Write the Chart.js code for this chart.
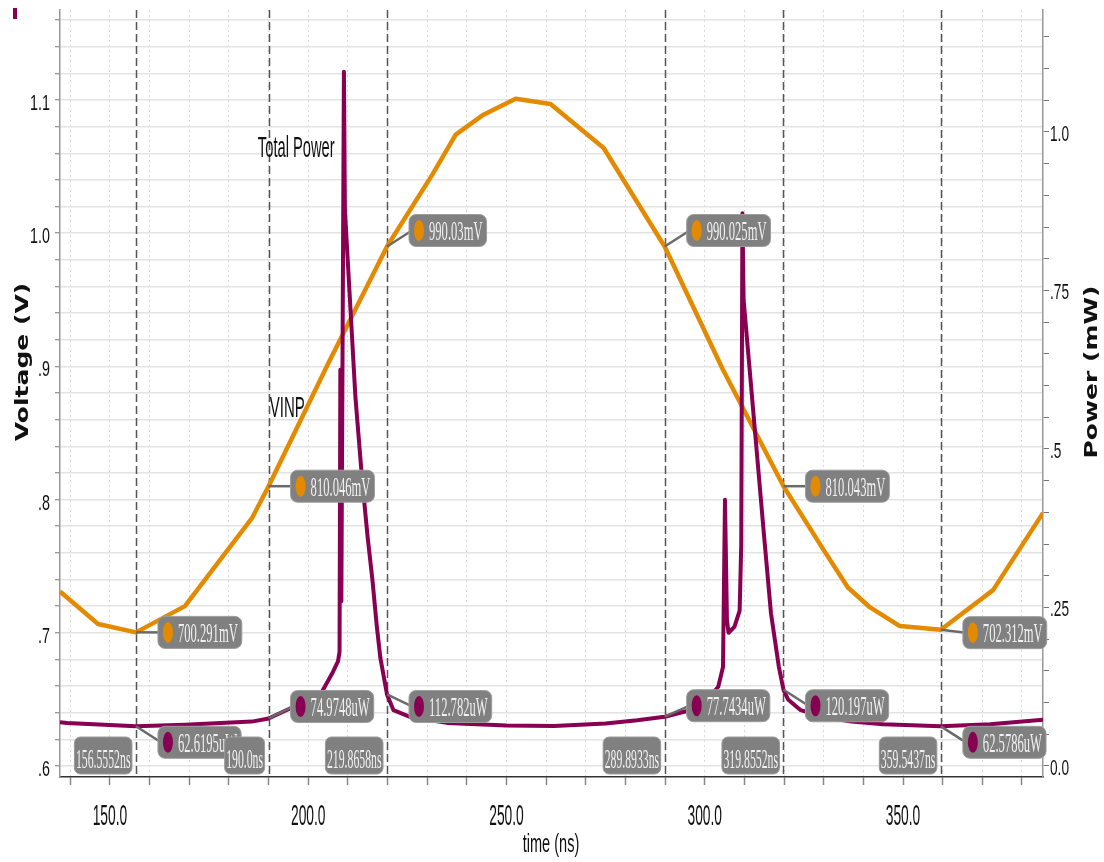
<!DOCTYPE html>
<html>
<head>
<meta charset="utf-8">
<script src="https://cdn.jsdelivr.net/npm/chart.js@4.4.0/dist/chart.umd.min.js"></script>
<style>
  html, body { margin: 0; padding: 0; background: #fff; }
  #wrap { width: 1104px; height: 862px; position: relative; }
</style>
</head>
<body>
<div id="wrap"><canvas id="chart"></canvas></div>
<script>
// VINP (V) against time (ns)
const vinpTime = [137.4, 147.0, 156.56, 168.9, 185.8, 190.0, 205.0, 219.87, 231.3, 237.2, 244.2, 252.3, 261.1, 274.5,
    289.89, 304.5, 319.86, 329.8, 336.1, 341.7, 349.2, 359.54, 372.7, 384.0, 385.3];
const vinpVolt = [0.731, 0.7066, 0.7003, 0.720, 0.786, 0.810, 0.902, 0.990, 1.044, 1.074, 1.089, 1.101, 1.097, 1.064,
    0.990, 0.898, 0.810, 0.763, 0.734, 0.719, 0.705, 0.7023, 0.732, 0.784, 0.79];

// Total Power (mW) against time (ns)
const powerTime = [137.4, 139.2, 156.56, 168.9, 185.8, 190.0, 196.2, 203.0, 206.2, 207.5, 207.9, 208.1, 208.35, 209.0,
    209.25, 211.9, 213.6, 215.0, 216.2, 217.3, 218.2, 219.87, 221.5, 225.8, 235, 250, 262, 275, 283, 289.89, 296.3, 302.1,
    303.4, 304.6, 305.1, 305.6, 306.0, 307.5, 308.8, 309.2, 309.5, 309.8, 314.9, 316.7, 318.7, 319.86, 321.0, 324.2, 330,
    337, 345, 359.54, 372, 385.3];
const powerMw = [0.069, 0.068, 0.0626, 0.065, 0.070, 0.075, 0.093, 0.112, 0.148, 0.165, 0.18, 0.625, 0.26, 1.095,
    0.877, 0.582, 0.451, 0.36, 0.293, 0.22, 0.17, 0.1128, 0.088, 0.077, 0.068, 0.064, 0.063, 0.067, 0.072, 0.0777, 0.088,
    0.115, 0.125, 0.156, 0.42, 0.23, 0.21, 0.22, 0.245, 0.35, 0.872, 0.735, 0.367, 0.241, 0.156, 0.12, 0.105, 0.088, 0.077,
    0.07, 0.066, 0.0626, 0.066, 0.073];

// cursors
const cursorTime = [156.5552, 190.0, 219.8658, 289.8933, 319.8552, 359.5437];
const cursorTimeText = ['156.5552ns', '190.0ns', '219.8658ns', '289.8933ns', '319.8552ns', '359.5437ns'];
const cursorVinp = [700.291, 810.046, 990.03, 990.025, 810.043, 702.312];   // mV
const cursorPower = [62.6195, 74.9748, 112.782, 77.7434, 120.197, 62.5786]; // uW

// tick labels
const timeTicks = [150, 200, 250, 300, 350];
const timeTickText = ['150.0', '200.0', '250.0', '300.0', '350.0'];
const voltTicks = [0.6, 0.7, 0.8, 0.9, 1.0, 1.1];
const voltTickText = ['.6', '.7', '.8', '.9', '1.0', '1.1'];
const powerTicks = [0, 0.25, 0.5, 0.75, 1.0];
const powerTickText = ['0.0', '.25', '.5', '.75', '1.0'];

const ORANGE = '#E38A00';
const PURPLE = '#870052';

// tag placement (px shift of the box from its point)
const vinpTagShift = [0, 0, -16, -16, 0, 3];
const powerTagShift = [16, -12, 12, -11, 16, 16];

function stepTicks(from, to, step) {
    const out = [];
    for (let i = 0; from + i * step <= to + 1e-9; i++) out.push({ value: +(from + i * step).toFixed(4) });
    return out;
}

function putText(ctx, str, x, y, font, sx, align, color) {
    ctx.save();
    ctx.font = font;
    ctx.fillStyle = color;
    ctx.textBaseline = 'alphabetic';
    ctx.textAlign = 'left';
    const w = ctx.measureText(str).width * sx;
    let left = x;
    if (align === 'center') left = x - w / 2;
    else if (align === 'right') left = x - w;
    ctx.translate(left, y);
    ctx.scale(sx, 1);
    ctx.fillText(str, 0, 0);
    ctx.restore();
    return w;
}

function putVertical(ctx, str, cx, cy, font, sy, color) {
    ctx.save();
    ctx.font = font;
    ctx.fillStyle = color;
    ctx.translate(cx, cy);
    ctx.rotate(-Math.PI / 2);
    ctx.scale(1, sy);
    ctx.textAlign = 'center';
    ctx.textBaseline = 'middle';
    ctx.fillText(str, 0, 0);
    ctx.restore();
}

function textWidth(ctx, str, font, sx) {
    ctx.save();
    ctx.font = font;
    const w = ctx.measureText(str).width * sx;
    ctx.restore();
    return w;
}

const TAG_FONT = '28px "Liberation Serif", serif';

function valueTag(ctx, px, py, by, color, str) {
    const bx = px + 22;
    const tw = textWidth(ctx, str, TAG_FONT, 0.45);
    const bw = 20 + tw + 4;
    ctx.save();
    ctx.strokeStyle = '#6a6a6a';
    ctx.lineWidth = 2.5;
    ctx.beginPath();
    ctx.moveTo(px, py);
    ctx.lineTo(bx + 3, by);
    ctx.stroke();
    ctx.fillStyle = '#808080';
    ctx.strokeStyle = '#9c9c9c';
    ctx.lineWidth = 1;
    ctx.beginPath();
    ctx.roundRect(bx, by - 16, bw, 32, 7);
    ctx.fill();
    ctx.stroke();
    ctx.fillStyle = color;
    ctx.beginPath();
    ctx.ellipse(bx + 10, by, 5, 10.5, 0, 0, Math.PI * 2);
    ctx.fill();
    ctx.restore();
    putText(ctx, str, bx + 20, by + 9.5, TAG_FONT, 0.45, 'left', '#f0f0f0');
}

function timeTag(ctx, px, str) {
    const tw = textWidth(ctx, str, TAG_FONT, 0.42);
    const bw = tw + 3;
    const right = px - 4;
    ctx.save();
    ctx.fillStyle = '#808080';
    ctx.strokeStyle = '#9c9c9c';
    ctx.lineWidth = 1;
    ctx.beginPath();
    ctx.roundRect(right - bw, 737, bw, 37, 6);
    ctx.fill();
    ctx.stroke();
    ctx.restore();
    putText(ctx, str, right - bw / 2, 768, TAG_FONT, 0.42, 'center', '#f0f0f0');
}

const overlay = {
    id: 'overlay',
    beforeDatasetsDraw(chart) {
        const { ctx, chartArea, scales: { x } } = chart;
        ctx.save();
        ctx.strokeStyle = '#555';
        ctx.lineWidth = 1.5;
        ctx.setLineDash([8, 4]);
        cursorTime.forEach(t => {
            const px = Math.round(x.getPixelForValue(t)) + 0.5;
            ctx.beginPath();
            ctx.moveTo(px, chartArea.top);
            ctx.lineTo(px, chartArea.bottom);
            ctx.stroke();
        });
        ctx.restore();
    },
    afterDatasetsDraw(chart) {
        const { ctx, scales: { x, y, y2 } } = chart;
        cursorTime.forEach((t, i) => {
            const px = x.getPixelForValue(t);
            const pyV = y.getPixelForValue(cursorVinp[i] / 1000);
            valueTag(ctx, px, pyV, pyV + vinpTagShift[i], ORANGE, cursorVinp[i] + 'mV');
            const pyP = y2.getPixelForValue(cursorPower[i] / 1000);
            valueTag(ctx, px, pyP, pyP + powerTagShift[i], PURPLE, cursorPower[i] + 'uW');
        });
        cursorTime.forEach((t, i) => timeTag(ctx, x.getPixelForValue(t), cursorTimeText[i]));

        // trace names
        putText(ctx, 'Total Power', x.getPixelForValue(187.3), y.getPixelForValue(1.057), '30px "Liberation Sans", Arial', 0.49, 'left', '#111');
        putText(ctx, 'VINP', x.getPixelForValue(190.3), y.getPixelForValue(0.862), '30px "Liberation Sans", Arial', 0.5, 'left', '#111');
    },
    afterDraw(chart) {
        const { ctx, scales: { x, y, y2 } } = chart;
        const tickFont = '22px "Liberation Sans", Arial';
        voltTicks.forEach((v, i) => putText(ctx, voltTickText[i], 50, y.getPixelForValue(v) + 10, tickFont, 0.65, 'right', '#111'));
        powerTicks.forEach((v, i) => putText(ctx, powerTickText[i], 1050, y2.getPixelForValue(v) + 9, tickFont, 0.62, 'left', '#111'));
        timeTicks.forEach((v, i) => putText(ctx, timeTickText[i], x.getPixelForValue(v), 825, '30px "Liberation Sans", Arial', 0.46, 'center', '#111'));
        putText(ctx, 'time (ns)', 551, 852, '26px "Liberation Sans", Arial', 0.56, 'center', '#111');
        putVertical(ctx, 'Voltage (V)', 23, 362, 'bold 25px "DejaVu Sans", Verdana', 0.72, '#111');
        putVertical(ctx, 'Power (mW)', 1092, 372, 'bold 25px "DejaVu Sans", Verdana', 0.72, '#111');
        ctx.save();
        ctx.fillStyle = PURPLE;
        ctx.fillRect(13, 8, 4, 11);
        ctx.restore();
    }
};

const ctx = document.getElementById('chart').getContext('2d');

const chart = new Chart(ctx, {
    type: 'line',
    data: {
        datasets: [
            {
                label: 'Total Power',
                yAxisID: 'y2',
                data: powerTime.map((t, i) => ({ x: t, y: powerMw[i] })),
                borderColor: PURPLE,
                borderWidth: 4,
                borderJoinStyle: 'round',
                pointRadius: 0,
                tension: 0,
                fill: false,
            },
            {
                label: 'VINP',
                yAxisID: 'y',
                data: vinpTime.map((t, i) => ({ x: t, y: vinpVolt[i] })),
                borderColor: ORANGE,
                borderWidth: 4.5,
                borderJoinStyle: 'round',
                pointRadius: 0,
                tension: 0,
                fill: false,
            },
        ],
    },
    options: {
        responsive: true,
        maintainAspectRatio: false,
        animation: false,
        events: [],
        layout: { padding: { top: 10, left: 0, right: 0, bottom: 0 } },
        plugins: {
            legend: { display: false },
            tooltip: { enabled: false },
        },
        scales: {
            x: {
                type: 'linear',
                min: 137.4,
                max: 385.3,
                afterBuildTicks: s => { s.ticks = stepTicks(140, 380, 10); },
                afterFit: s => { s.height = 85; },
                ticks: { display: false },
                grid: { color: '#d9d9d9', lineWidth: 1, tickLength: 8, tickColor: '#888', tickWidth: 1.5 },
                border: { color: '#333', width: 1.5, dash: [2, 3] },
            },
            y: {
                position: 'left',
                min: 0.5917,
                max: 1.1676,
                afterBuildTicks: s => { s.ticks = stepTicks(0.6, 1.16, 0.02); },
                afterFit: s => { s.width = 60; },
                ticks: { display: false },
                grid: { color: '#e3e3e3', lineWidth: 1.5, tickLength: 5, tickColor: '#777', tickWidth: 1 },
                border: { color: '#999', width: 1.5 },
            },
            y2: {
                position: 'right',
                min: -0.01735,
                max: 1.1924,
                afterBuildTicks: s => { s.ticks = stepTicks(0, 1.15, 0.05); },
                afterFit: s => { s.width = 61; },
                ticks: { display: false },
                grid: { drawOnChartArea: false, tickLength: 6, color: '#777', lineWidth: 1 },
                border: { color: '#999', width: 1.5 },
            },
        },
    },
    plugins: [overlay],
});
</script>
</body>
</html>
